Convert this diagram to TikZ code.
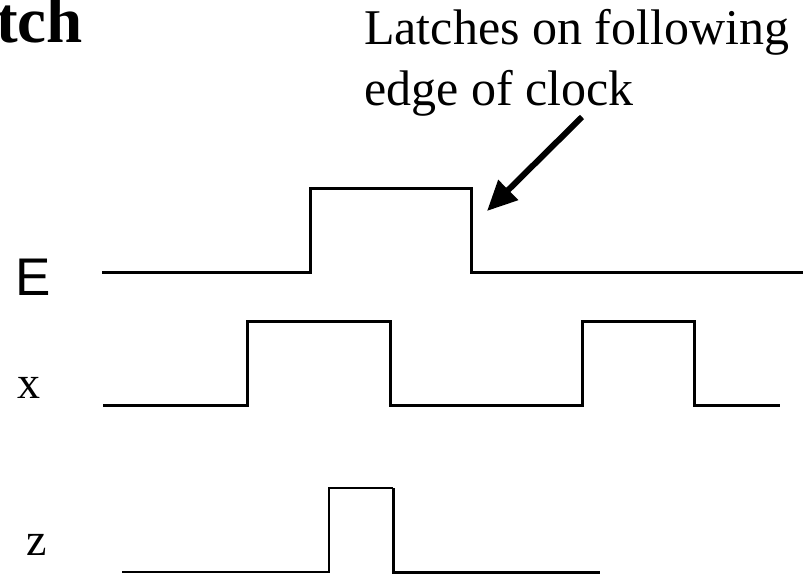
\documentclass[tikz,border=0pt]{standalone}
\usepackage{fontspec}
\setmainfont{Liberation Serif}
\newfontfamily\labelsans{Liberation Sans}
\usetikzlibrary{arrows.meta}

\tikzset{
  wave/.style={line width=3pt, line join=miter, line cap=butt},
  thinwave/.style={line width=2.2pt, line join=miter, line cap=butt},
  siglabel/.style={inner sep=0pt, anchor=base west, font=\fontsize{46}{50}\selectfont},
  note/.style={inner sep=0pt, anchor=base west, font=\fontsize{50}{60}\selectfont},
  pointer/.style={line width=6pt, -{Triangle[length=30pt,width=27pt]}},
}

\begin{document}
\begin{tikzpicture}[x=1pt, y=-1pt]
  \useasboundingbox (0,0) rectangle (803,575);

  % heading, cut at the left edge of the page
  \node[inner sep=0pt, anchor=base west, font=\fontsize{65}{72}\selectfont\bfseries] (title) at (-4,43) {tch};

  % annotation
  \node[note] (note1) at (364,45) {Latches on following};
  \node[note] (note2) at (364,106) {edge of clock};
  \coordinate (tail) at (582,117);
  \coordinate (tip) at (487,211);
  \draw[pointer] (tail) -- (tip);

  % signal names
  \node[inner sep=0pt, anchor=base west, font=\fontsize{53}{60}\selectfont\labelsans] (lblE) at (15,295) {E};
  \node[siglabel] (lblx) at (17,398) {x};
  \node[siglabel] (lblz) at (26,555) {z};

  % enable
  \draw[wave] (102,272) -- (310,272) -- (310,188) -- (471,188) -- (471,272) -- (803,272);

  % data input
  \draw[wave] (103,405) -- (247,405) -- (247,321) -- (390,321) -- (390,405)
              -- (582,405) -- (582,321) -- (694,321) -- (694,405) -- (780,405);

  % latch output
  \draw[thinwave] (122,572) -- (329,572) -- (329,488) -- (393,488);
  \draw[wave] (393,488) -- (393,572) -- (600,572);
\end{tikzpicture}
\end{document}
